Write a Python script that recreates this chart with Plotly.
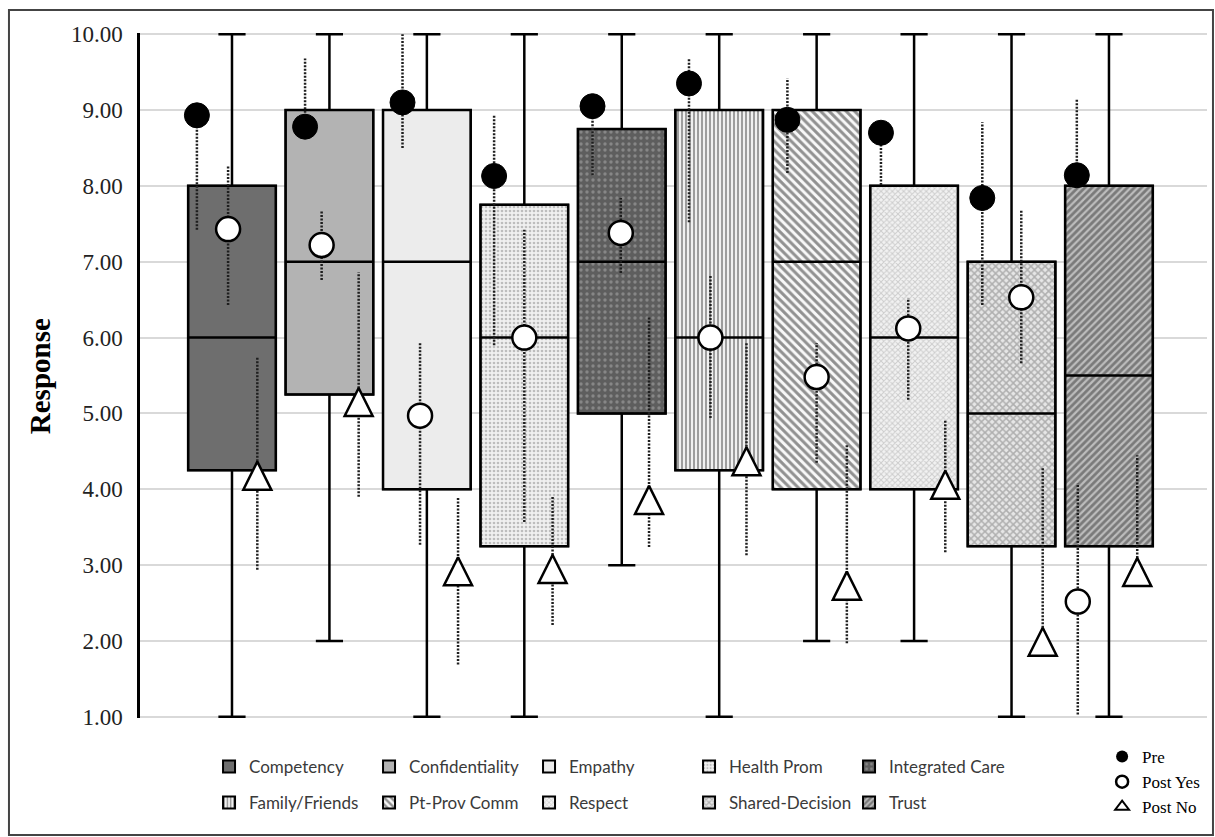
import plotly.graph_objects as go

# ---------------- data ----------------
categories = ["Competency", "Confidentiality", "Empathy", "Health Prom", "Integrated Care",
              "Family/Friends", "Pt-Prov Comm", "Respect", "Shared-Decision", "Trust"]

q1 = [4.25, 5.25, 4.00, 3.25, 5.00, 4.25, 4.00, 4.00, 3.25, 3.25]
median = [6.0, 7.0, 7.0, 6.0, 7.0, 6.0, 7.0, 6.0, 5.0, 5.5]
q3 = [8.00, 9.00, 9.00, 7.75, 8.75, 9.00, 9.00, 8.00, 7.00, 8.00]
lower_whisker = [1, 2, 1, 1, 3, 1, 2, 2, 1, 1]
upper_whisker = [10, 10, 10, 10, 10, 10, 10, 10, 10, 10]

pre_mean = [8.93, 8.78, 9.10, 8.13, 9.05, 9.35, 8.87, 8.70, 7.84, 8.14]
pre_lo = [7.42, 8.78, 8.50, 5.90, 8.14, 7.52, 8.17, 8.01, 6.43, 8.14]
pre_hi = [8.93, 9.68, 10.00, 8.93, 9.05, 9.68, 9.42, 8.70, 8.84, 9.15]

post_yes_mean = [7.43, 7.22, 4.97, 6.00, 7.38, 6.00, 5.48, 6.12, 6.53, 2.52]
post_yes_lo = [6.43, 6.76, 3.27, 3.57, 6.85, 4.94, 4.35, 5.18, 5.66, 1.03]
post_yes_hi = [8.27, 7.68, 5.93, 7.42, 7.84, 6.82, 5.93, 6.52, 7.68, 4.08]

post_no_mean = [4.18, 5.15, 2.92, 2.95, 3.86, 4.37, 2.73, 4.06, 1.99, 2.91]
post_no_lo = [2.94, 3.90, 1.69, 2.21, 3.24, 3.13, 1.97, 3.17, 1.99, 2.91]
post_no_hi = [5.74, 6.86, 3.90, 3.90, 6.27, 5.94, 4.58, 4.91, 4.28, 4.45]

tick_vals = [1, 2, 3, 4, 5, 6, 7, 8, 9, 10]

# ---------------- layout helpers (jitter of the marker columns, in category units) ----
pre_shift = [-0.36, -0.25, -0.25, -0.31, -0.30, -0.31, -0.30, -0.34, -0.30, -0.33]
yes_shift = [-0.04, -0.08, -0.07, 0.00, -0.01, -0.09, 0.00, -0.06, 0.10, -0.32]
no_shift = [0.26, 0.30, 0.32, 0.29, 0.28, 0.28, 0.31, 0.32, 0.32, 0.29]

styles = [
    dict(color="#6e6e6e"),
    dict(color="#b3b3b3"),
    dict(color="#ececec"),
    dict(color="#f0f0f0", pattern=dict(shape=".", bgcolor="#f0f0f0", fgcolor="#8a8a8a", size=4, solidity=0.35)),
    dict(color="#5e5e5e", pattern=dict(shape=".", bgcolor="#5e5e5e", fgcolor="#b0b0b0", size=6, solidity=0.25)),
    dict(color="#e8e8e8", pattern=dict(shape="|", bgcolor="#f0f0f0", fgcolor="#4a4a4a", size=4, solidity=0.5)),
    dict(color="#f8f8f8", pattern=dict(shape="\\", bgcolor="#f8f8f8", fgcolor="#2a2a2a", size=6, solidity=0.5)),
    dict(color="#f2f2f2", pattern=dict(shape="x", bgcolor="#f2f2f2", fgcolor="#a8a8a8", size=4, solidity=0.45)),
    dict(color="#e6e6e6", pattern=dict(shape="x", bgcolor="#e6e6e6", fgcolor="#777777", size=5, solidity=0.5)),
    dict(color="#7a7a7a", pattern=dict(shape="/", bgcolor="#7a7a7a", fgcolor="#ffffff", size=5, solidity=0.45)),
]

BOX_W = 0.9
fig = go.Figure()

# pattern-filled box bodies
for i, name in enumerate(categories):
    st = styles[i]
    mk = dict(color=st["color"], line=dict(color="black", width=2))
    if "pattern" in st:
        mk["pattern"] = st["pattern"]
    fig.add_trace(go.Bar(
        x=[i], y=[q3[i] - q1[i]], base=[q1[i]], width=BOX_W, name=name,
        marker=mk, legend="legend" if i < 5 else "legend3", hoverinfo="skip",
    ))

# box outlines, medians, whiskers and caps
fig.add_trace(go.Box(
    x=list(range(len(categories))), q1=q1, median=median, q3=q3,
    lowerfence=lower_whisker, upperfence=upper_whisker,
    width=BOX_W, whiskerwidth=0.31, fillcolor="rgba(0,0,0,0)",
    line=dict(color="black", width=2.5), boxpoints=False,
    showlegend=False, hoverinfo="skip",
))


def seg(xs, lo, hi):
    X, Y = [], []
    for x, a, b in zip(xs, lo, hi):
        if b - a > 0.001:
            X += [x, x, None]
            Y += [a, b, None]
    return X, Y


pre_x = [i + s for i, s in enumerate(pre_shift)]
yes_x = [i + s for i, s in enumerate(yes_shift)]
no_x = [i + s for i, s in enumerate(no_shift)]

for xs, lo, hi in [(pre_x, pre_lo, pre_hi), (yes_x, post_yes_lo, post_yes_hi), (no_x, post_no_lo, post_no_hi)]:
    X, Y = seg(xs, lo, hi)
    fig.add_trace(go.Scatter(x=X, y=Y, mode="lines", showlegend=False, hoverinfo="skip",
                             line=dict(color="#1e1e1e", width=2.5, dash="2px,1.5px"), cliponaxis=False))

fig.add_trace(go.Scatter(x=pre_x, y=pre_mean, mode="markers", showlegend=False, hoverinfo="skip",
                         marker=dict(symbol="circle", size=25, color="black", line=dict(color="black", width=1)),
                         cliponaxis=False))
fig.add_trace(go.Scatter(x=yes_x, y=post_yes_mean, mode="markers", showlegend=False, hoverinfo="skip",
                         marker=dict(symbol="circle", size=24, color="white", line=dict(color="black", width=2.5)),
                         cliponaxis=False))
fig.add_trace(go.Scatter(x=no_x, y=post_no_mean, mode="markers", showlegend=False, hoverinfo="skip",
                         marker=dict(symbol="arrow-down", angle=180, standoff=14, size=28, color="white",
                                     line=dict(color="black", width=2.5)),
                         cliponaxis=False))

# legend entries for the marker series
for nm, sym, lw in [("Pre", "circle", 0), ("Post Yes", "circle-open", 2.5), ("Post No", "triangle-up-open", 2)]:
    fig.add_trace(go.Scatter(x=[None], y=[None], mode="markers", name=nm, legend="legend2",
                             marker=dict(symbol=sym, size=12, color="black", line=dict(color="black", width=lw))))

cat_font = dict(family="Lato", size=17, color="#3a3a3a")
fig.update_layout(
    width=1215, height=837,
    margin=dict(l=140, r=8, t=33, b=119),
    paper_bgcolor="white", plot_bgcolor="white",
    barmode="overlay",
    xaxis=dict(range=[-0.944, 10.006], showgrid=False, showticklabels=False, zeroline=False,
               showline=False, fixedrange=True),
    yaxis=dict(range=[0.985, 10.015], tickvals=tick_vals, tickformat=".2f", showgrid=True,
               gridcolor="#d9d9d9", gridwidth=1.5, zeroline=False, showline=True,
               linecolor="black", linewidth=2.5, ticks="", ticklabelstandoff=10,
               tickfont=dict(family="Liberation Serif", size=23, color="#222222")),
    legend=dict(orientation="h", x=0.0647, xanchor="left", y=-0.0715, yanchor="middle",
                entrywidth=115, entrywidthmode="pixels", font=cat_font, bgcolor="rgba(0,0,0,0)",
                traceorder="normal"),
    legend3=dict(orientation="h", x=0.0647, xanchor="left", y=-0.124, yanchor="middle",
                 entrywidth=115, entrywidthmode="pixels", font=cat_font, bgcolor="rgba(0,0,0,0)",
                 traceorder="normal"),
    legend2=dict(orientation="v", x=0.9017, xanchor="left", y=-0.0934, yanchor="middle",
                 font=dict(family="Liberation Serif", size=17, color="black"), bgcolor="rgba(0,0,0,0)",
                 itemwidth=30, traceorder="normal"),
    annotations=[dict(text="<b>Response</b>", textangle=-90, x=-0.0937, y=0.499, xref="paper", yref="paper",
                      xanchor="center", yanchor="middle", showarrow=False,
                      font=dict(family="Liberation Serif", size=29, color="black"))],
    shapes=[dict(type="rect", xref="paper", yref="paper", x0=-0.1228, x1=1.0056, y0=-0.1708, y1=1.0336,
                 line=dict(color="#444444", width=2), fillcolor="rgba(0,0,0,0)", layer="below")],
)

fig.write_html("out.html", config={"displayModeBar": False},
               post_script="document.body.style.margin='0';document.body.style.overflow='hidden';")
